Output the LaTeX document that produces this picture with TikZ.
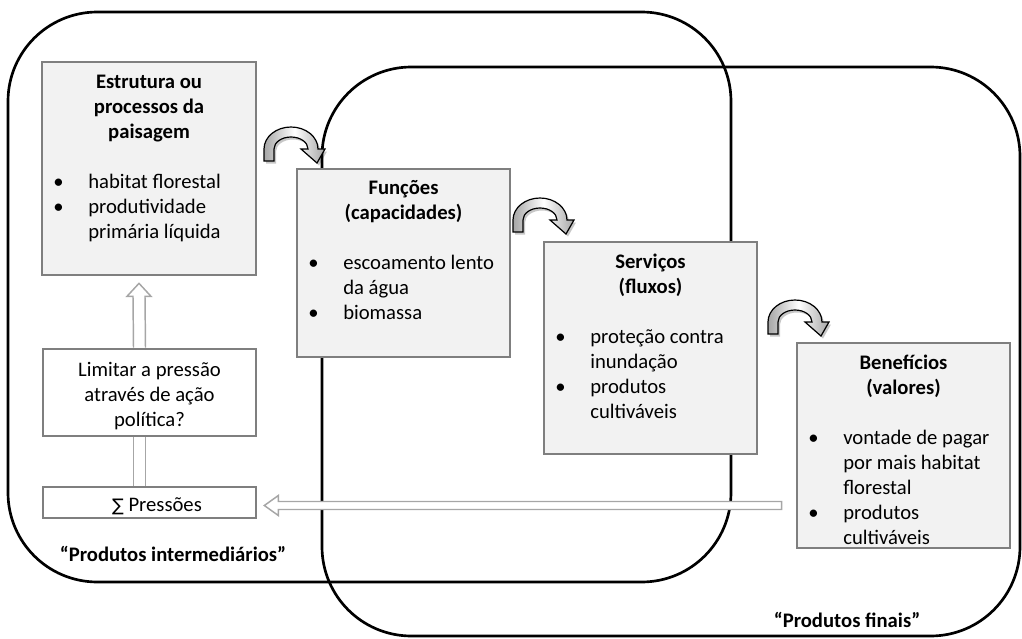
\documentclass[tikz,border=0pt]{standalone}
\usepackage{fontspec}
\setmainfont{Carlito}
\newfontfamily\symfont{DejaVu Sans}
\usetikzlibrary{calc,backgrounds}
\definecolor{boxgray}{HTML}{7F7F7F}
\definecolor{boxfill}{HTML}{F2F2F2}
\definecolor{arrgray}{HTML}{A6A6A6}
\newcommand{\blt}{\makebox[26.25pt][l]{•}}
\newcommand{\curvpath}{(-27,12) -- (-27,0) arc[start angle=180,end angle=360,x radius=27,y radius=22] -- (34,0) -- (26,14) -- (10,0) -- (17,0) arc[start angle=360,end angle=180,x radius=17,y radius=12] -- (-17,12) -- cycle}
\tikzset{
 box/.style={draw=boxgray, line width=2pt, fill=boxfill, inner sep=0pt},
 wbox/.style={box, fill=white},
 txt/.style={inner sep=0pt, font=\fontsize{15.5pt}{18.75pt}\selectfont},
 ttl/.style={inner sep=0pt, font=\fontsize{15.5pt}{18.75pt}\selectfont\bfseries},
 hollow/.style={draw=arrgray, fill=white, line width=1.1pt, line join=miter},
 region/.style={draw=black, line width=2pt, rounded corners=67pt},
 curv/.style={draw=black, line width=0.9pt, left color=gray!70, right color=gray!70, middle color=white},
 curvshadow/.style={fill=black, opacity=0.22},
 pics/curvarrow/.style={code={
   \begin{scope}[shift={(2,2.5)}]\path[curvshadow] \curvpath;\end{scope}
   \path[curv] \curvpath;}}
}
\begin{document}
\begin{tikzpicture}[x=0.75pt,y=-0.75pt]
\useasboundingbox (0,0) rectangle (1022,639);
% boxes
\node[box, minimum width=160.5pt, minimum height=159.75pt] (est) at (149,168.5) {};
\node[box, minimum width=159.75pt, minimum height=141pt] (fun) at (403.5,263) {};
\node[box, minimum width=159.75pt, minimum height=159pt] (ser) at (650.5,348) {};
\node[box, minimum width=159.75pt, minimum height=153.75pt] (ben) at (903.5,445.5) {};
\node[wbox, minimum width=159.75pt, minimum height=65.25pt] (lim) at (149.5,392.5) {};
\node[wbox, minimum width=159.75pt, minimum height=23.25pt] (pre) at (149.5,502.5) {};
% background: regions and hollow arrows
\begin{scope}[on background layer]
\draw[region] (8,12) rectangle (731,582);
\draw[region] (322,67) rectangle (1020,636);
\draw[hollow] ($(lim.north)+(-16,0)$) -- ($(est.south)+(-16,20)$) -- ($(est.south)+(-22,20)$) -- ($(est.south)+(-10,7)$) -- ($(est.south)+(2,20)$) -- ($(est.south)+(-4,20)$) -- ($(lim.north)+(-4,0)$);
\fill[white] ($(pre.north)+(-16,0)$) rectangle ($(lim.south)+(-4,0)$);
\draw[hollow] ($(pre.north)+(-16,0)$) -- ($(lim.south)+(-16,0)$);
\draw[hollow] ($(pre.north)+(-4,0)$) -- ($(lim.south)+(-4,0)$);
\coordinate (hr) at ($(ben.west |- pre.east)+(-14,3)$);
\coordinate (hl) at ($(pre.east)+(7,3)$);
\draw[hollow] ($(hr)+(0,-4)$) -- ($(hl)+(14,-4)$) -- ($(hl)+(14,-10)$) -- (hl) -- ($(hl)+(14,10)$) -- ($(hl)+(14,4)$) -- ($(hr)+(0,4)$) -- cycle;
\end{scope}
% curved arrows
\pic at (291,149) {curvarrow};
\pic at (540,220) {curvarrow};
\pic at (795,322) {curvarrow};
% texts box 1
\node[ttl, anchor=base] (est-t) at (149,88) {\begin{tabular}[t]{@{}c@{}}Estrutura ou\\processos da\\paisagem\end{tabular}};
\node[txt, anchor=base west] (est-b) at (53,188) {\begin{tabular}[t]{@{}l@{}l@{}}\blt&habitat florestal\\\blt&produtividade\\&primária líquida\end{tabular}};
% box 2
\node[ttl, anchor=base] (fun-t) at (403.5,194) {\begin{tabular}[t]{@{}c@{}}Funções\\(capacidades)\end{tabular}};
\node[txt, anchor=base west] (fun-b) at (308,269) {\begin{tabular}[t]{@{}l@{}l@{}}\blt&escoamento lento\\&da água\\\blt&biomassa\end{tabular}};
% box 3
\node[ttl, anchor=base] (ser-t) at (650.5,268) {\begin{tabular}[t]{@{}c@{}}Serviços\\(fluxos)\end{tabular}};
\node[txt, anchor=base west] (ser-b) at (555,343) {\begin{tabular}[t]{@{}l@{}l@{}}\blt&proteção contra\\&inundação\\\blt&produtos\\&cultiváveis\end{tabular}};
% box 4
\node[ttl, anchor=base] (ben-t) at (903.5,369) {\begin{tabular}[t]{@{}c@{}}Benefícios\\(valores)\end{tabular}};
\node[txt, anchor=base west] (ben-b) at (808,444) {\begin{tabular}[t]{@{}l@{}l@{}}\blt&vontade de pagar\\&por mais habitat\\&florestal\\\blt&produtos\\&cultiváveis\end{tabular}};
% box 5, 6
\node[txt, anchor=base] (lim-t) at (149.5,376) {\begin{tabular}[t]{@{}c@{}}Limitar a pressão\\através de ação\\política?\end{tabular}};
\node[txt, anchor=base] (pre-t) at (157,511) {{\symfont\fontsize{13pt}{15pt}\selectfont ∑} Pressões};
% region labels
\node[ttl, anchor=base] (lab1) at (173,561) {“Produtos intermediários”};
\node[ttl, anchor=base] (lab2) at (847,627) {“Produtos finais”};
\end{tikzpicture}
\end{document}
